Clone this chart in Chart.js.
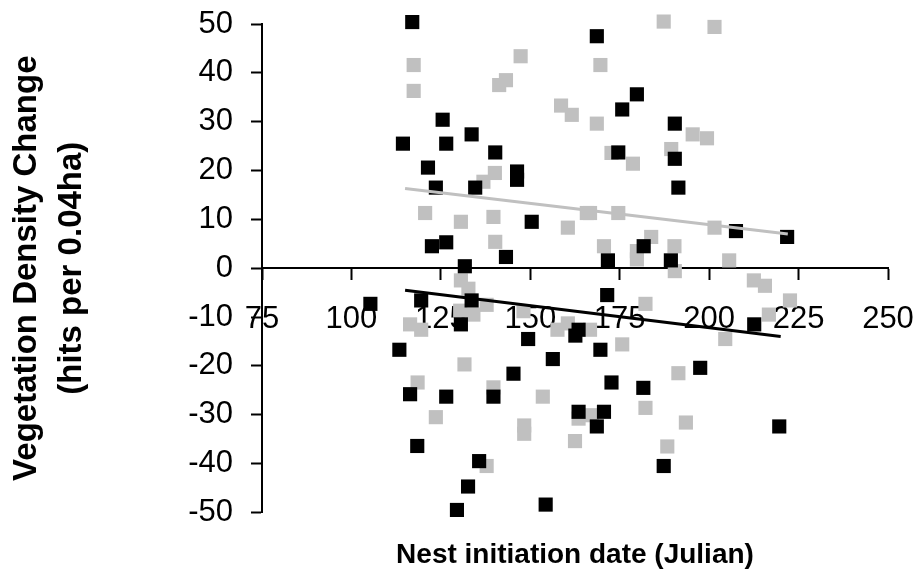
<!DOCTYPE html>
<html>
<head>
<meta charset="utf-8">
<script src="https://cdn.jsdelivr.net/npm/chart.js@4/dist/chart.umd.min.js"></script>
<style>
  html, body { margin: 0; padding: 0; background: #fff; }
  #wrap { width: 917px; height: 584px; }
</style>
</head>
<body>
<div id="wrap"><canvas id="chart"></canvas></div>
<script>
// Nest initiation date (Julian) vs vegetation density change
const blackX = [117, 114.4, 125.5, 126.5, 133.6, 140.2, 121.4, 123.6, 134.6, 146.3, 146.3, 150.4, 122.5, 126.5, 143.2, 131.7,
  168.6, 179.8, 175.7, 190.4, 174.6, 190.4, 191.4, 207.5, 221.8, 181.7, 171.7, 189.3,
  105.3, 119.5, 133.6, 130.6, 149.4, 163.5, 162.6, 113.4, 156.3, 145.3, 116.4, 126.5, 139.7, 118.4, 135.7, 132.6, 129.5, 154.3,
  171.5, 169.6, 172.7, 181.6, 163.5, 170.6, 168.6, 197.5, 219.6, 187.3, 212.6];
const blackY = [50.4, 25.5, 30.4, 25.5, 27.4, 23.7, 20.6, 16.5, 16.5, 19.8, 18.1, 9.5, 4.5, 5.3, 2.3, 0.4,
  47.5, 35.6, 32.5, 29.6, 23.7, 22.4, 16.5, 7.6, 6.4, 4.5, 1.6, 1.6,
  -7.3, -6.6, -6.6, -11.5, -14.5, -12.6, -13.8, -16.7, -18.6, -21.6, -25.8, -26.3, -26.3, -36.4, -39.5, -44.7, -49.5, -48.4,
  -5.5, -16.7, -23.4, -24.5, -29.4, -29.4, -32.4, -20.4, -32.4, -40.5, -11.5];

const greyX = [117.4, 117.4, 147.3, 143.2, 141.3, 158.6, 161.6, 140.1, 136.9, 120.6, 130.6, 139.7, 140.2, 160.5, 187.3, 201.5,
  169.6, 168.6, 195.4, 199.4, 172.7, 189.4, 178.7, 165.8, 166.7, 174.6, 201.5, 183.8, 170.6, 179.8, 179.8, 190.3, 205.6,
  190.4, 130.6, 132.7, 212.5, 215.6, 222.6, 216.7, 204.5, 182.2, 191.4, 182.2, 193.5, 188.3, 175.7, 157.6, 160.5, 166.7,
  153.5, 148.3, 148.3, 163.5, 162.5, 167.2, 134.1, 137.8, 130.4, 131.6, 116.4, 119.5, 118.5, 139.7, 123.6, 137.8, 148.1];
const greyY = [41.6, 36.3, 43.4, 38.5, 37.5, 33.3, 31.4, 19.5, 17.7, 11.3, 9.5, 10.5, 5.4, 8.3, 50.5, 49.4,
  41.6, 29.6, 27.4, 26.6, 23.6, 24.4, 21.4, 11.3, 11.3, 11.3, 8.3, 6.4, 4.5, 3.5, 1.8, 4.5, 1.6,
  -0.6, -2.5, -4.2, -2.5, -3.6, -6.6, -9.5, -14.5, -7.3, -21.5, -28.6, -31.6, -36.5, -15.6, -12.6, -11.3, -12.6,
  -26.3, -32.2, -33.9, -30.8, -35.4, -30.1, -9.5, -7.5, -8.7, -19.7, -11.5, -12.6, -23.4, -24.4, -30.5, -40.5, -8.8];

// trend line end points
const blackTrendX = [115, 220];
const blackTrendY = [-4.5, -14.0];
const greyTrendX = [115, 222];
const greyTrendY = [16.3, 7.0];

const xTicks = [75, 100, 125, 150, 175, 200, 225, 250];
const yTicks = [-50, -40, -30, -20, -10, 0, 10, 20, 30, 40, 50];

const toPts = (xs, ys) => xs.map((x, i) => ({ x: x, y: ys[i] }));

const fam = 'Arial, "Liberation Sans", sans-serif';

new Chart(document.getElementById('chart').getContext('2d'), {
  type: 'scatter',
  data: {
    datasets: [
      {
        type: 'line', label: 'black trend', data: toPts(blackTrendX, blackTrendY),
        borderColor: '#000000', borderWidth: 3, pointRadius: 0, fill: false
      },
      {
        type: 'line', label: 'grey trend', data: toPts(greyTrendX, greyTrendY),
        borderColor: '#c0c0c0', borderWidth: 3, pointRadius: 0, fill: false
      },
      {
        label: 'black', data: toPts(blackX, blackY), clip: false,
        pointStyle: 'rect', pointRadius: 10, pointHoverRadius: 10,
        backgroundColor: '#000000', borderColor: '#000000', borderWidth: 0
      },
      {
        label: 'grey', data: toPts(greyX, greyY), clip: false,
        pointStyle: 'rect', pointRadius: 10, pointHoverRadius: 10,
        backgroundColor: '#c0c0c0', borderColor: '#c0c0c0', borderWidth: 0
      }
    ]
  },
  options: {
    responsive: true,
    maintainAspectRatio: false,
    animation: false,
    layout: { padding: { left: 0, top: 24, right: 29, bottom: 0 } },
    plugins: {
      legend: { display: false },
      tooltip: { enabled: false },
      title: {
        display: true,
        position: 'bottom',
        fullSize: false,
        text: 'Nest initiation date (Julian)',
        color: '#000',
        font: { family: fam, size: 28, weight: 'bold' },
        padding: { top: 26, bottom: 12 }
      }
    },
    scales: {
      x: {
        type: 'linear',
        position: { y: 0 },
        min: 75, max: 250,
        afterBuildTicks: s => { s.ticks = xTicks.map(v => ({ value: v })); },
        // tall line height pushes the labels down below the zero line
        ticks: { color: '#000', font: { family: fam, size: 31, lineHeight: 2.58 }, padding: 0, maxRotation: 0, autoSkip: false },
        grid: { drawOnChartArea: false, drawTicks: true, tickLength: 11, tickColor: '#000', tickWidth: 2 },
        border: { color: '#000', width: 2 }
      },
      y: {
        type: 'linear',
        position: 'left',
        min: -50, max: 50,
        afterBuildTicks: s => { s.ticks = yTicks.map(v => ({ value: v })); },
        afterFit: s => { s.width = 262; },
        ticks: { color: '#000', font: { family: fam, size: 31, lineHeight: 0.3 }, padding: 18 },
        grid: { drawOnChartArea: false, drawTicks: true, tickLength: 11, tickColor: '#000', tickWidth: 2 },
        border: { color: '#000', width: 2 },
        title: {
          display: true,
          text: ['Vegetation Density Change', '(hits per 0.04ha)'],
          color: '#000',
          font: { family: fam, size: 33, weight: 'bold', lineHeight: 1.35 },
          padding: { top: 5, bottom: 0 }
        }
      }
    }
  }
});
</script>
</body>
</html>
